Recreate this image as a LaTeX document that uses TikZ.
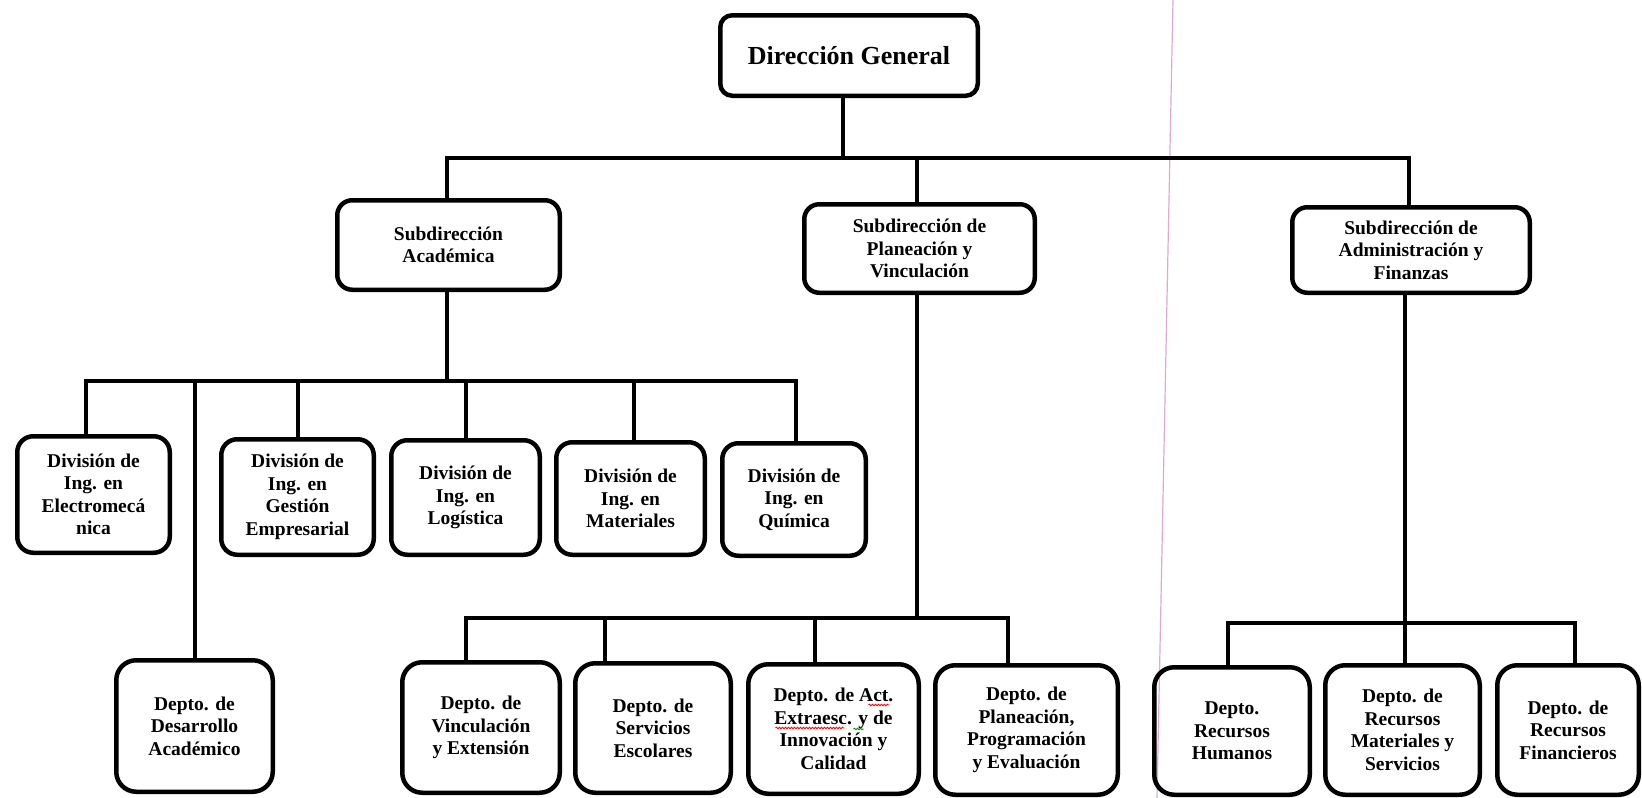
\documentclass[tikz,border=0pt]{standalone}
\usepackage{fontspec}
\setmainfont{Liberation Serif}
\usetikzlibrary{decorations.pathmorphing}
\definecolor{scanpink}{RGB}{222,170,210}
\tikzset{
  box/.style={draw=black, line width=4.5pt, rounded corners=16pt, align=center,
    inner sep=0pt, text=black, font=\bfseries\fontsize{19.5}{22.5}\selectfont},
  conn/.style={draw=black, line width=4.5pt, line join=miter},
  squiggle/.style={line width=0.9pt, decorate, decoration={snake, amplitude=0.8pt, segment length=3pt}},
}
\begin{document}
\begin{tikzpicture}[x=1pt,y=-1pt]
\useasboundingbox (0,0) rectangle (1642,798);
\fill[white] (0,0) rectangle (1642,798);
% scan artefact line
\coordinate (pkA) at (1173,0);
\coordinate (pkB) at (1157,798);
\draw[scanpink, line width=1.2pt] (pkA) -- (pkB);

% nodes
\node[box, rounded corners=12pt, minimum width=257.5pt, minimum height=80.5pt,
  font=\bfseries\fontsize{26}{29}\selectfont] (dg) at (849,55.5) {Dirección General};

\node[box, rounded corners=15pt, minimum width=222.5pt, minimum height=89.5pt] (sa) at (448.5,245) {Subdirección\\Académica};
\node[box, rounded corners=15pt, minimum width=230.5pt, minimum height=88.5pt] (sp) at (919.5,248.5) {Subdirección de\\Planeación y\\Vinculación};
\node[box, rounded corners=15pt, minimum width=237.5pt, minimum height=85.5pt] (sf) at (1411,250) {Subdirección de\\Administración y\\Finanzas};

\node[box, minimum width=152.5pt, minimum height=116.5pt] (d1) at (93.5,494.5) {División de\\Ing. en\\Electromecá\\nica};
\node[box, minimum width=152.5pt, minimum height=115.5pt] (d2) at (297.5,497) {División de\\Ing. en\\Gestión\\Empresarial};
\node[box, minimum width=148.5pt, minimum height=114.5pt] (d3) at (465.5,497.5) {División de\\Ing. en\\Logística};
\node[box, minimum width=148.5pt, minimum height=112.5pt] (d4) at (630.5,498.5) {División de\\Ing. en\\Materiales};
\node[box, minimum width=143.5pt, minimum height=112.5pt] (d5) at (794,499.5) {División de\\Ing. en\\Química};

\node[box, rounded corners=20pt, minimum width=156.5pt, minimum height=131.5pt] (dd) at (194.5,726) {Depto. de\\Desarrollo\\Académico};

\node[box, rounded corners=20pt, minimum width=157.5pt, minimum height=130.5pt] (p1) at (481,727.5) {Depto. de\\Vinculación\\y Extensión};
\node[box, rounded corners=20pt, minimum width=155.5pt, minimum height=129.5pt] (p2) at (653,728) {Depto. de\\Servicios\\Escolares};
\node[box, rounded corners=20pt, minimum width=170.5pt, minimum height=129.5pt] (p3) at (833.5,729) {Depto. de Act.\\Extraesc. y de\\Innovación y\\Calidad};
\node[box, rounded corners=20pt, minimum width=182.5pt, minimum height=129.5pt] (p4) at (1026.5,730) {Depto. de\\Planeación,\\Programación\\y Evaluación};

\node[box, rounded corners=20pt, minimum width=155.5pt, minimum height=127.5pt] (a1) at (1232,731) {Depto.\\Recursos\\Humanos};
\node[box, rounded corners=20pt, minimum width=154.5pt, minimum height=129.5pt] (a2) at (1402.5,730) {Depto. de\\Recursos\\Materiales y\\Servicios};
\node[box, rounded corners=20pt, minimum width=141.5pt, minimum height=129.5pt] (a3) at (1568,730) {Depto. de\\Recursos\\Financieros};

% spell-check marks under p3 text
\draw[squiggle, red] ([shift={(35,-24)}]p3.center) -- ++(21,0);
\draw[squiggle, red] ([shift={(-58,-1)}]p3.center) -- ++(69,0);
\draw[squiggle, green!55!black] ([shift={(20,0)}]p3.center) -- ++(10,0);

% bus coordinates
\coordinate (m0) at (843,158);
\coordinate (mL) at (447,158);
\coordinate (mP) at (917,158);
\coordinate (mR) at (1409,158);

\coordinate (aT) at (447,381);
\coordinate (aX1) at (86,381);
\coordinate (aX2) at (195,381);
\coordinate (aX3) at (298,381);
\coordinate (aX4) at (466,381);
\coordinate (aX5) at (634,381);
\coordinate (aX6) at (796,381);

\coordinate (pT) at (917,618);
\coordinate (pX1) at (466,618);
\coordinate (pX2) at (605,618);
\coordinate (pX3) at (815,618);
\coordinate (pX4) at (1008,618);

\coordinate (fT) at (1405,623);
\coordinate (fX1) at (1228,623);
\coordinate (fX3) at (1575,623);

% connectors: top level
\draw[conn] (dg.south -| m0) -- (m0);
\draw[conn] (mL |- sa.north) -- (mL) -- (mR) -- (mR |- sf.north);
\draw[conn] (mP) -- (mP |- sp.north);

% academica
\draw[conn] (aT |- sa.south) -- (aT);
\draw[conn] (aX1 |- d1.north) -- (aX1) -- (aX6) -- (aX6 |- d5.north);
\draw[conn] (aX2) -- (aX2 |- dd.north);
\draw[conn] (aX3) -- (aX3 |- d2.north);
\draw[conn] (aX4) -- (aX4 |- d3.north);
\draw[conn] (aX5) -- (aX5 |- d4.north);

% planeacion
\draw[conn] (pT |- sp.south) -- (pT);
\draw[conn] (pX1 |- p1.north) -- (pX1) -- (pX4) -- (pX4 |- p4.north);
\draw[conn] (pX2) -- (pX2 |- p2.north);
\draw[conn] (pX3) -- (pX3 |- p3.north);

% administracion
\draw[conn] (fT |- sf.south) -- (fT);
\draw[conn] (fX1 |- a1.north) -- (fX1) -- (fX3) -- (fX3 |- a3.north);
\draw[conn] (fT) -- (fT |- a2.north);
\end{tikzpicture}
\end{document}
